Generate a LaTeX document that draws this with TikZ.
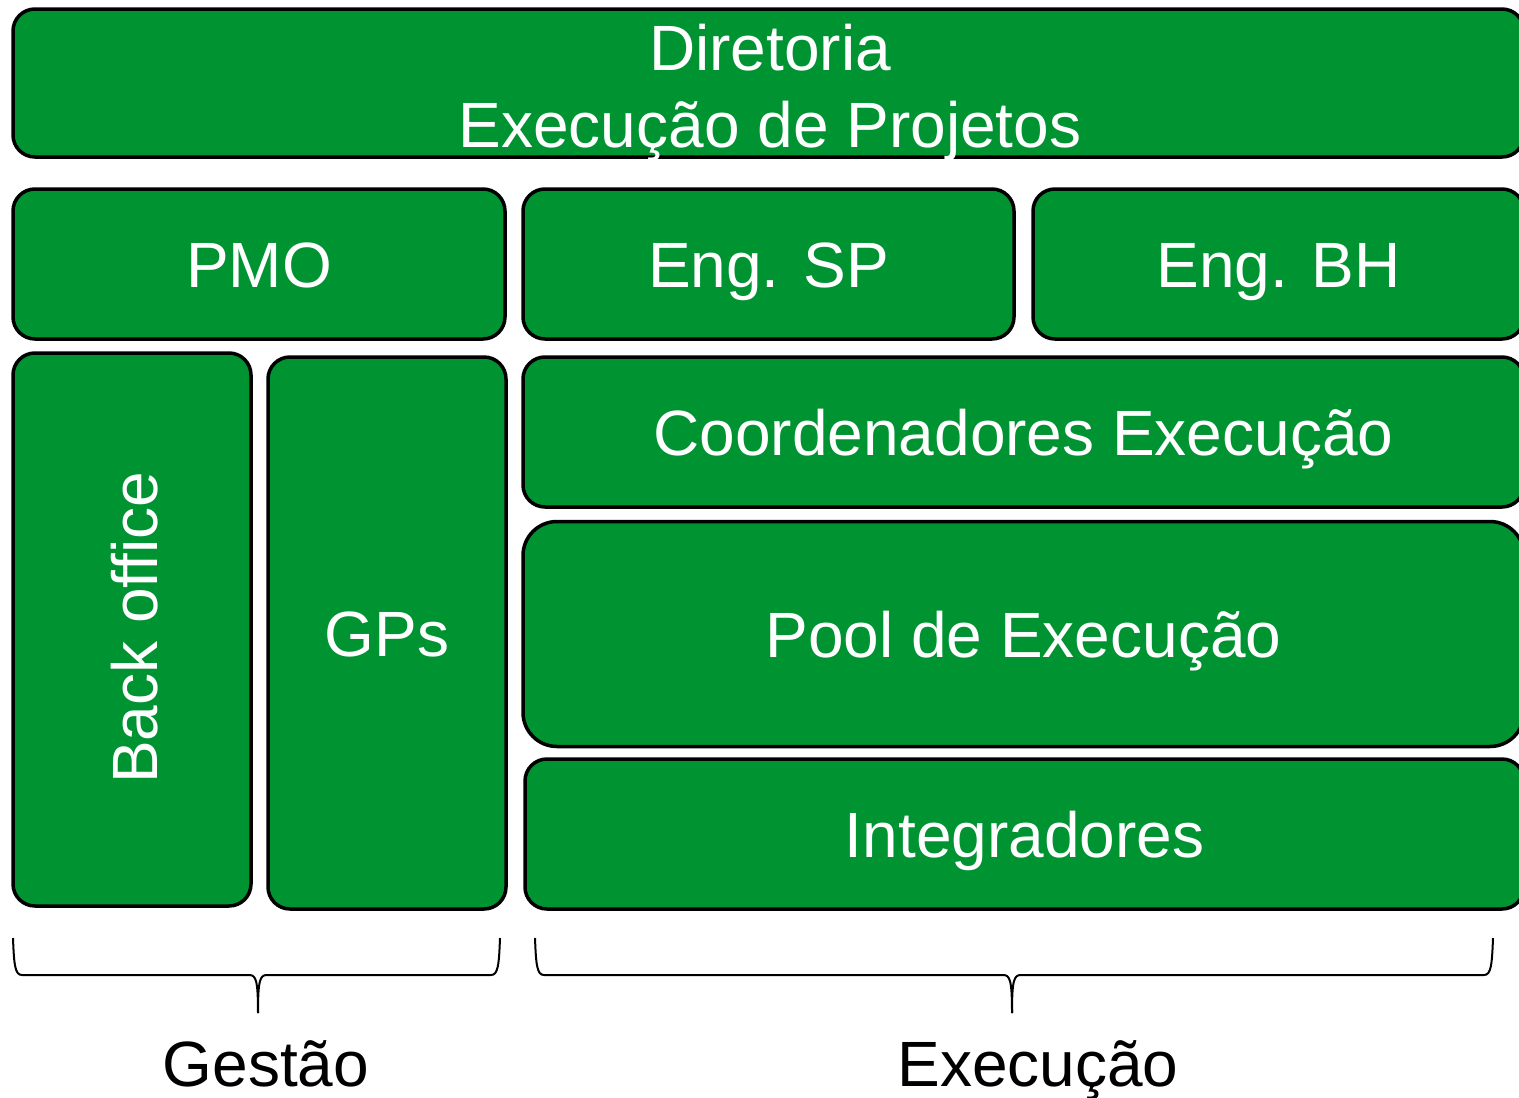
\documentclass[tikz,border=0pt]{standalone}
\usepackage{fontspec}
\setmainfont{Liberation Sans}
\definecolor{boxgreen}{RGB}{0,147,50}
\begin{document}
\begin{tikzpicture}[x=1pt,y=-1pt,
  bigfont/.style={font=\fontsize{64}{77}\selectfont},
  gbox/.style={draw=black, line width=3.5pt, fill=boxgreen, rounded corners=22pt,
    text=white, bigfont, inner sep=0pt, outer sep=0pt, align=center,
    text height=46pt, text depth=0pt},
  wtext/.style={text=white, bigfont, inner sep=0pt},
  brace/.style={draw=black, line width=2pt}]
\useasboundingbox (0,0) rectangle (1519,1098);
\begin{scope}
\clip (0,0) rectangle (1519,1098);
\node[gbox, minimum width=1511pt, minimum height=148pt] (dir) at (768.5,83) {};
\node[wtext, anchor=base] (dirA) at (770,70) {Diretoria};
\node[wtext, anchor=base] (dirB) at (770,147) {Execução de Projetos};
\node[gbox, minimum width=492pt, minimum height=150pt] (pmo) at (259,264) {PMO};
\node[gbox, minimum width=491pt, minimum height=150pt] (engsp) at (768.5,264) {Eng. SP};
\node[gbox, minimum width=491pt, minimum height=150pt] (engbh) at (1278.5,264) {Eng. BH};
\node[gbox, minimum width=238pt, minimum height=553pt] (back) at (132,629.5) {};
\node[wtext, rotate=90, text height=46pt, text depth=0pt] (backt) at (134,628) {Back office};
\node[gbox, minimum width=238pt, minimum height=552pt] (gps) at (387,633) {GPs};
\node[gbox, minimum width=1001pt, minimum height=150pt] (coord) at (1023.5,432) {Coordenadores Execução};
\node[gbox, minimum width=1001pt, minimum height=225pt, rounded corners=34pt] (pool) at (1023.5,634) {Pool de Execução};
\node[gbox, minimum width=999pt, minimum height=150pt] (integ) at (1024.5,834) {Integradores};
\end{scope}
% braces
\coordinate (g1) at (13,938);
\coordinate (g2) at (500,938);
\coordinate (gt) at (258,1013);
\draw[brace] (g1) .. controls (14,965) and (15,975) .. (22,975) -- (249,975)
  .. controls (256,975) and (258,980) .. (gt);
\draw[brace] (g2) .. controls (499,965) and (498,975) .. (491,975) -- (267,975)
  .. controls (260,975) and (258,980) .. (gt);
\coordinate (e1) at (535,938);
\coordinate (e2) at (1493,938);
\coordinate (et) at (1012,1013);
\draw[brace] (e1) .. controls (536,965) and (537,975) .. (544,975) -- (1003,975)
  .. controls (1010,975) and (1012,980) .. (et);
\draw[brace] (e2) .. controls (1492,965) and (1491,975) .. (1484,975) -- (1021,975)
  .. controls (1014,975) and (1012,980) .. (et);
\node[bigfont, anchor=base] (gest) at (266,1086) {Gestão};
\node[bigfont, anchor=base] (exec) at (1038,1086) {Execução};
\end{tikzpicture}
\end{document}
